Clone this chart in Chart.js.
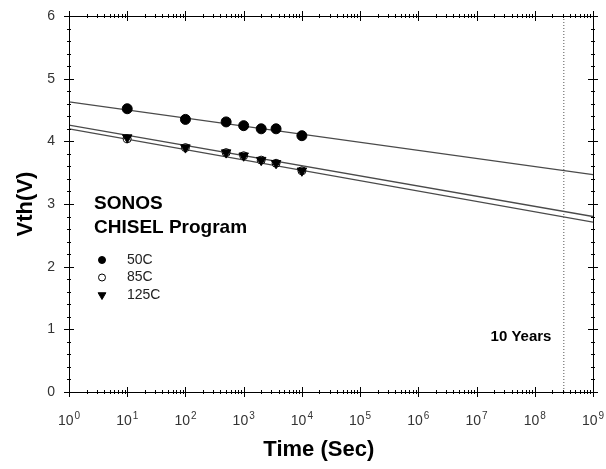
<!DOCTYPE html>
<html>
<head>
<meta charset="utf-8">
<script src="https://cdn.jsdelivr.net/npm/chart.js@4.4.1/dist/chart.umd.min.js"></script>
<style>
    body { margin: 0; background: #fff; }
    #wrap { width: 606px; height: 469px; }
</style>
</head>
<body>
<div id="wrap"><canvas id="vth_chart"></canvas></div>
<script>
// stress time (sec) and measured Vth for each temperature
const times = [10, 100, 500, 1000, 2000, 3600, 10000];
const vth_50c = [4.52, 4.35, 4.31, 4.25, 4.20, 4.20, 4.09];
const vth_85c = [4.04, 3.90, 3.82, 3.77, 3.70, 3.65, 3.53];
const vth_125c = [4.06, 3.90, 3.82, 3.77, 3.70, 3.65, 3.53];

// extrapolated fit lines, read at 1 sec and 1e9 sec
const fit_times = [1, 1e9];
const fit_50c = [4.63, 3.47];
const fit_85c = [4.26, 2.80];
const fit_125c = [4.20, 2.71];

// 10 years marker
const ten_years = 3.1536e8;
const marker_vth = [0, 6];

const y_ticks = [0, 1, 2, 3, 4, 5, 6];
const x_decades = [0, 1, 2, 3, 4, 5, 6, 7, 8, 9];

const legend_items = [
    { label: '50C', style: 'circle', fill: '#000', rotation: 0 },
    { label: '85C', style: 'circle', fill: '#fff', rotation: 0 },
    { label: '125C', style: 'triangle', fill: '#000', rotation: 180 },
];

const FONT = "'Liberation Sans', Arial, sans-serif";

function pairs(xs, ys) {
    return xs.map((x, i) => ({ x: x, y: ys[i] }));
}

function fit_line(label, ys) {
    return {
        label: label,
        data: pairs(fit_times, ys),
        showLine: true,
        borderColor: '#4a4a4a',
        borderWidth: 1.3,
        pointRadius: 0,
        order: 5,
    };
}

// frame + crossing tick marks on all four sides, decade labels, legend and notes
const frame_plugin = {
    id: 'frame_plugin',
    afterDraw(chart) {
        const ctx = chart.ctx;
        const area = chart.chartArea;
        const xs = chart.scales.x;
        const ys = chart.scales.y;
        ctx.save();
        ctx.strokeStyle = '#000';
        ctx.lineWidth = 1;
        ctx.strokeRect(Math.round(area.left) + 0.5, Math.round(area.top) + 0.5,
            Math.round(area.right - area.left), Math.round(area.bottom - area.top));

        ctx.beginPath();
        for (let d = 0; d <= 9; d++) {
            for (let m = 1; m <= 9; m++) {
                if (d === 9 && m > 1) break;
                const px = Math.round(xs.getPixelForValue(m * Math.pow(10, d))) + 0.5;
                const len = m === 1 ? 5 : 2;
                ctx.moveTo(px, area.bottom - len); ctx.lineTo(px, area.bottom + len);
                ctx.moveTo(px, area.top - len); ctx.lineTo(px, area.top + len);
            }
        }
        for (let i = 0; i <= 30; i++) {
            const v = i * 0.2;
            const py = Math.round(ys.getPixelForValue(v)) + 0.5;
            const len = i % 5 === 0 ? 5 : 2;
            ctx.moveTo(area.left - len, py); ctx.lineTo(area.left + len, py);
            ctx.moveTo(area.right - len, py); ctx.lineTo(area.right + len, py);
        }
        ctx.stroke();

        // decade labels 10^n with a raised exponent
        ctx.fillStyle = '#333';
        ctx.textBaseline = 'alphabetic';
        ctx.textAlign = 'left';
        x_decades.forEach((d) => {
            const px = xs.getPixelForValue(Math.pow(10, d));
            ctx.font = '14px ' + FONT;
            const w_base = ctx.measureText('10').width;
            ctx.font = '10px ' + FONT;
            const w_exp = ctx.measureText(String(d)).width;
            const x0 = px - (w_base + w_exp + 1) / 2;
            ctx.font = '14px ' + FONT;
            ctx.fillText('10', x0, area.bottom + 33);
            ctx.font = '10px ' + FONT;
            ctx.fillText(String(d), x0 + w_base + 1, area.bottom + 27);
        });

        ctx.fillStyle = '#000';
        ctx.textBaseline = 'middle';
        ctx.textAlign = 'left';
        ctx.font = 'bold 19px ' + FONT;
        ctx.fillText('SONOS', 94, 204);
        ctx.fillText('CHISEL Program', 94, 228);

        ctx.font = '14px ' + FONT;
        legend_items.forEach((item, i) => {
            const y = 260 + i * 17.5;
            ctx.fillStyle = item.fill;
            ctx.strokeStyle = '#000';
            ctx.lineWidth = 1;
            Chart.helpers.drawPoint(ctx, {
                pointStyle: item.style, radius: item.style === 'triangle' ? 4.5 : 3.5,
                rotation: item.rotation, borderWidth: 1
            }, 102, y);
            ctx.fillStyle = '#222';
            ctx.fillText(item.label, 127, y);
        });

        ctx.font = 'bold 15px ' + FONT;
        ctx.textAlign = 'center';
        ctx.fillStyle = '#000';
        ctx.fillText('10 Years', 521, 337);
        ctx.restore();
    }
};

const chart = new Chart(document.getElementById('vth_chart'), {
    type: 'scatter',
    data: {
        datasets: [
            {
                label: '50C',
                data: pairs(times, vth_50c),
                pointStyle: 'circle',
                pointRadius: 5,
                pointBackgroundColor: '#000',
                pointBorderColor: '#000',
                order: 1,
            },
            {
                label: '125C',
                data: pairs(times, vth_125c),
                pointStyle: 'triangle',
                pointRotation: 180,
                pointRadius: 5.5,
                pointBackgroundColor: '#000',
                pointBorderColor: '#000',
                order: 2,
            },
            {
                label: '85C',
                data: pairs(times, vth_85c),
                pointStyle: 'circle',
                pointRadius: 4,
                pointBackgroundColor: '#fff',
                pointBorderColor: '#000',
                pointBorderWidth: 1,
                order: 3,
            },
            fit_line('fit 50C', fit_50c),
            fit_line('fit 85C', fit_85c),
            fit_line('fit 125C', fit_125c),
            {
                label: '10 Years',
                data: pairs([ten_years, ten_years], marker_vth),
                showLine: true,
                borderColor: '#555',
                borderWidth: 1,
                borderDash: [1, 2],
                pointRadius: 0,
                order: 6,
            },
        ]
    },
    options: {
        responsive: true,
        maintainAspectRatio: false,
        animation: false,
        layout: {
            padding: { top: 16, right: 13, left: 0, bottom: 0 }
        },
        plugins: {
            legend: { display: false },
            tooltip: { enabled: false },
        },
        scales: {
            x: {
                type: 'logarithmic',
                min: 1,
                max: 1e9,
                grid: { display: false, drawTicks: false },
                border: { display: false },
                afterBuildTicks: (scale) => {
                    scale.ticks = x_decades.map((d) => ({ value: Math.pow(10, d) }));
                },
                afterFit: (scale) => {
                    scale.height = 77;
                    scale.paddingLeft = 0;
                    scale.paddingRight = 0;
                },
                ticks: { display: false },
                title: {
                    display: true,
                    text: 'Time (Sec)\u00a0\u00a0\u00a0\u00a0',
                    color: '#000',
                    font: { family: FONT, size: 22, weight: 'bold' },
                    padding: { top: 0, bottom: 6 },
                },
            },
            y: {
                min: 0,
                max: 6,
                grid: { display: false, drawTicks: false },
                border: { display: false },
                afterBuildTicks: (scale) => {
                    scale.ticks = y_ticks.map((v) => ({ value: v }));
                },
                afterFit: (scale) => {
                    scale.width = 69;
                    scale.paddingTop = 0;
                    scale.paddingBottom = 0;
                },
                ticks: {
                    padding: 14,
                    color: '#333',
                    font: { family: FONT, size: 14 },
                },
                title: {
                    display: true,
                    text: 'Vth(V)',
                    color: '#000',
                    font: { family: FONT, size: 22, weight: 'bold' },
                    padding: { top: 13, bottom: 0 },
                },
            },
        },
    },
    plugins: [frame_plugin],
});
</script>
</body>
</html>
